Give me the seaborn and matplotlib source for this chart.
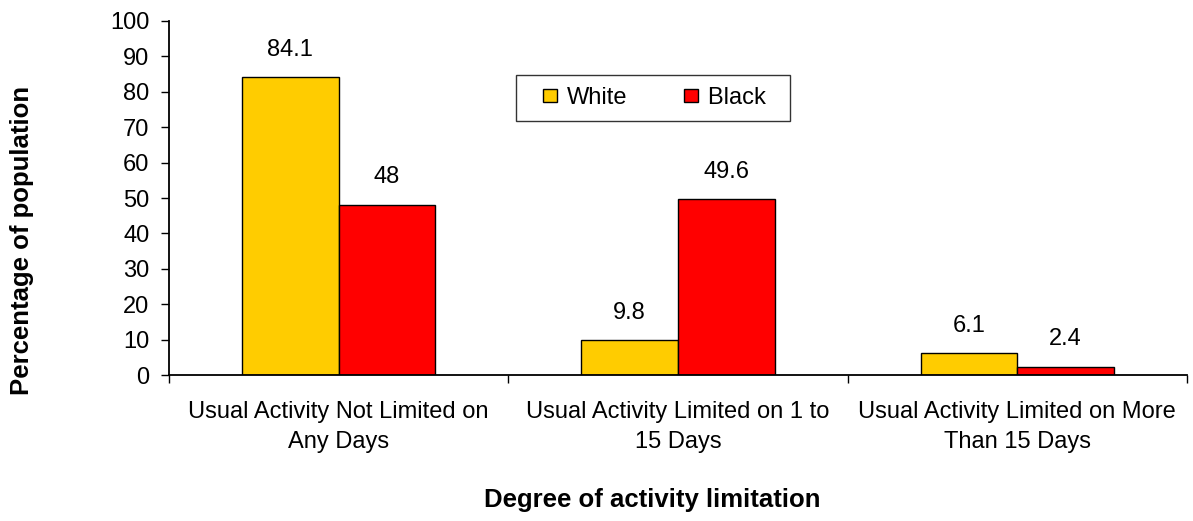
import matplotlib
matplotlib.use("Agg")
import matplotlib.pyplot as plt
import numpy as np
import pandas as pd
import seaborn as sns
from matplotlib.legend_handler import HandlerPatch
from matplotlib.patches import Patch, Rectangle

categories = [
    "Usual Activity Not Limited on\nAny Days",
    "Usual Activity Limited on 1 to\n15 Days",
    "Usual Activity Limited on More\nThan 15 Days",
]
groups = ["White", "Black"]
white_values = [84.1, 9.8, 6.1]
black_values = [48, 49.6, 2.4]
colors = {"White": "#FFCC00", "Black": "#FF0000"}

df = pd.DataFrame({
    "category": categories * 2,
    "group": ["White"] * 3 + ["Black"] * 3,
    "value": white_values + black_values,
})


def square_right(legend, orig_handle, xdescent, ydescent, width, height, fontsize):
    # small square pushed to the right end of the handle box
    size = 10
    return Rectangle((-xdescent + width - size, -ydescent + (height - size) / 2), size, size)


def main() -> None:
    sns.set_theme(style="white")
    plt.rcParams["font.family"] = ["Liberation Sans", "DejaVu Sans"]
    plt.rcParams.update({
        "text.color": "black",
        "axes.labelcolor": "black",
        "xtick.color": "black",
        "ytick.color": "black",
    })

    fig = plt.figure(figsize=(11.93, 5.21), dpi=100)
    ax = fig.add_axes([0.1417, 0.2802, 0.8533, 0.6795])

    sns.barplot(
        data=df, x="category", y="value", hue="group", order=categories,
        hue_order=groups, palette=colors, width=0.57, edgecolor="black",
        linewidth=1.0, saturation=1, ax=ax, legend=False,
    )

    for cont in ax.containers:
        ax.bar_label(cont, fmt="%g", padding=12, fontsize=17, color="black")

    ax.set_ylim(0, 100)
    ax.set_xlim(-0.5, 2.5)
    ax.set_yticks(np.arange(0, 101, 10))

    # category boundaries as major ticks, labels on minor ticks
    ax.set_xticks([-0.5, 0.5, 1.5, 2.5])
    ax.set_xticklabels([])
    ax.set_xticks([0, 1, 2], minor=True)
    ax.set_xticklabels(categories, minor=True, fontsize=17, linespacing=1.45)
    ax.tick_params(axis="x", which="major", length=6, width=1, direction="out", bottom=True, color="black")
    ax.tick_params(axis="x", which="minor", length=0, pad=19, labelcolor="black")
    ax.tick_params(axis="y", length=6, width=1, direction="out", left=True, labelsize=17, pad=8,
                   color="black", labelcolor="black")

    for side in ["top", "right"]:
        ax.spines[side].set_visible(False)
    for side in ["left", "bottom"]:
        ax.spines[side].set_color("black")
        ax.spines[side].set_linewidth(1.3)

    ax.set_xlabel("")
    ax.set_ylabel("")
    fig.text(652 / 1193, 1 - 500 / 521, "Degree of activity limitation",
             fontsize=18.5, fontweight="bold", ha="center", va="center", color="black")
    fig.text(22 / 1193, 1 - 240 / 521, "Percentage of population",
             fontsize=18.5, fontweight="bold", ha="center", va="center", rotation=90, color="black")

    handles = [Patch(facecolor=colors[g], edgecolor="black", linewidth=1.0, label=g) for g in groups]
    leg = ax.legend(
        handles=handles, labels=["White", "Black  "], ncol=2, loc="upper left",
        bbox_to_anchor=(516 / 1193, 1 - 75 / 521), bbox_transform=fig.transFigure,
        borderaxespad=0, frameon=True, fancybox=False, fontsize=17,
        handlelength=1.25, handleheight=0.7, columnspacing=1.75, handletextpad=0.4,
        borderpad=0.5, handler_map={Patch: HandlerPatch(patch_func=square_right)},
    )
    leg.get_frame().set_edgecolor("black")
    leg.get_frame().set_linewidth(1.0)
    for t in leg.get_texts():
        t.set_color("black")

    fig.savefig("out.png", dpi=100)
    plt.close(fig)


if __name__ == "__main__":
    main()
